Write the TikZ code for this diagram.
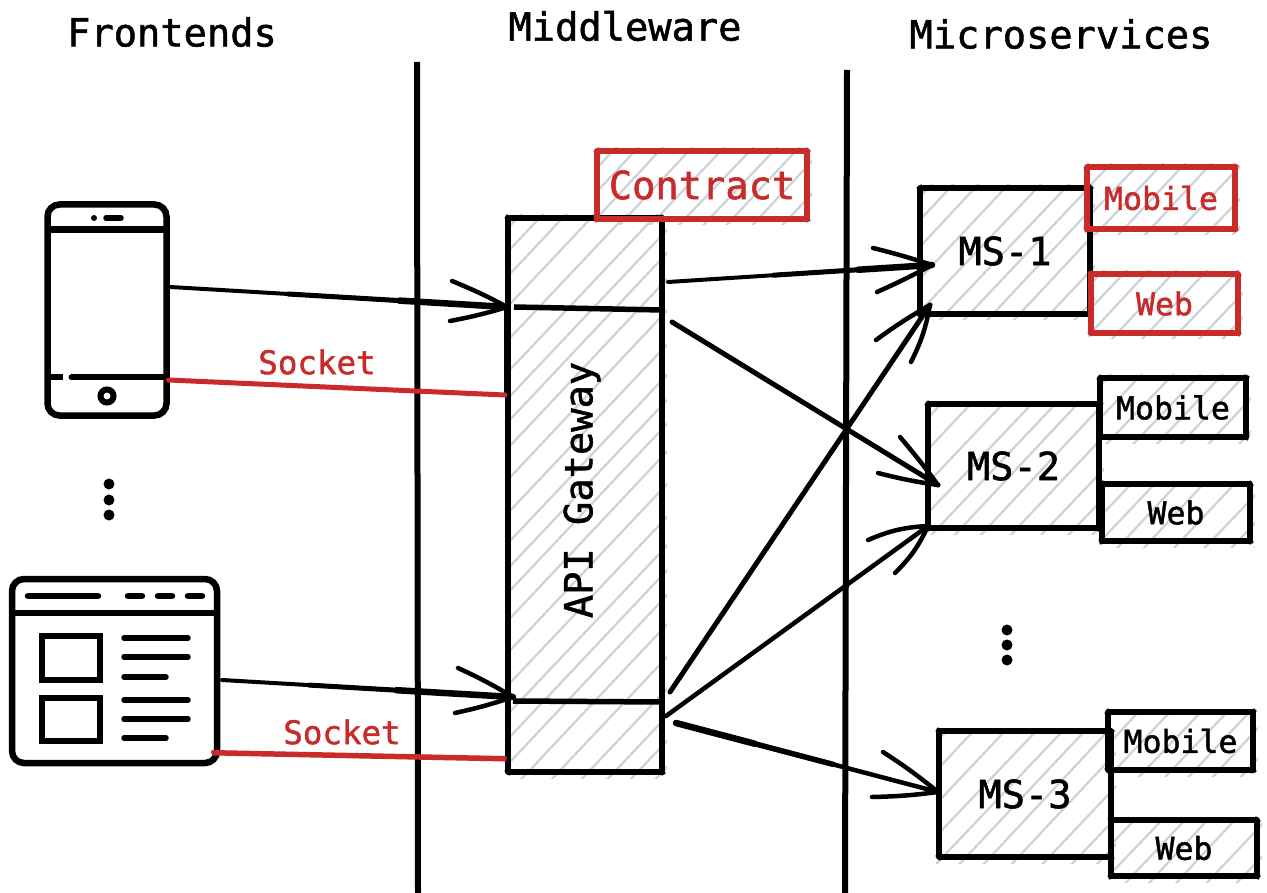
\documentclass[tikz,border=0pt]{standalone}
\usepackage{fontspec}
\usepackage{graphicx}
\newfontfamily\skmono{DejaVu Sans Mono}[FakeBold=1.4]
\usetikzlibrary{calc}
\definecolor{skred}{HTML}{C92A2A}
\definecolor{skhach}{HTML}{CBD2D9}
\newcommand{\fa}{\skmono\fontsize{38.7}{40}\selectfont}
\newcommand{\fb}{\skmono\fontsize{31.5}{34}\selectfont}
\newcommand{\fc}{\skmono\fontsize{32.5}{34}\selectfont}
\tikzset{
  x=1pt,y=-1pt,
  hachure/.style={draw=skhach,line width=2.2pt,line cap=round},
  skbox/.style={draw=black,line width=5.5pt,inner sep=0pt,outer sep=0pt,rectangle,line join=round},
  redbox/.style={skbox,draw=skred,text=skred},
  icon/.style={draw=black,line width=6.5pt,inner sep=0pt,outer sep=0pt,rectangle,rounded corners=12pt},
  title/.style={font=\fa,inner sep=0pt},
  sock/.style={font=\fc,text=skred,inner sep=0pt},
  conn/.style={draw=black,line cap=round},
  barb/.style={draw=black,line width=4.5pt,line cap=round},
  redconn/.style={draw=skred,line width=4pt,line cap=round},
  divider/.style={line width=5.5pt,line cap=butt,draw=black},
  ibar/.style={draw=black,line width=5.5pt,line cap=round},
  idot/.style={fill=black,draw=none,circle,minimum size=11pt,inner sep=0pt},
}
% hachure inside x1 y1 x2 y2 with a phase
\newcommand{\hach}[5]{%
  \begin{scope}
    \clip (#1-3,#2-3) rectangle (#3+5,#4+6);
    \pgfmathsetmacro{\hh}{#4-#2+40}
    \pgfmathsetmacro{\xs}{#1-\hh+#5}
    \pgfmathsetmacro{\xn}{\xs+27}
    \pgfmathsetmacro{\xe}{#3+10}
    \foreach \k in {\xs,\xn,...,\xe}{
      \pgfmathsetmacro{\jit}{3.5*sin(\k*11)}
      \draw[hachure] (\k+\jit,#4+20) -- (\k+\hh+1.5*\jit,#4+20-\hh*1.06);
    }
  \end{scope}}
% sketchy second stroke around a node
\newcommand{\rough}[6]{%
  \draw[draw=#2,line width=3.5pt,line cap=round]
    ([shift={(-2,#3)}]#1.north west) -- ([shift={(2,-#3)}]#1.north east)
    ([shift={(-2,-#4)}]#1.south west) -- ([shift={(2,#4)}]#1.south east)
    ([shift={(#5,-2)}]#1.north west) -- ([shift={(-#5,2)}]#1.south west)
    ([shift={(-#6,-2)}]#1.north east) -- ([shift={(#6,2)}]#1.south east);}
% connector: id, width, start, tip, barb1, barb2, bend1, bend2
\newcommand{\skarrow}[8]{%
  \coordinate (#1s) at (#3);
  \coordinate (#1t) at (#4);
  \coordinate (#1a) at (#5);
  \coordinate (#1b) at (#6);
  \draw[conn,line width=#2pt] (#1s) -- (#1t);
  \draw[barb] (#1a) to[bend left=#7] (#1t);
  \draw[barb] (#1b) to[bend right=#8] (#1t);}
\begin{document}
\begin{tikzpicture}
\useasboundingbox (0,0) rectangle (1267,893);
\fill[white] (0,0) rectangle (1267,893);

% hachures
\hach{508}{218}{662}{772}{4}
\hach{597}{151}{807}{219}{11}
\hach{920}{188}{1090}{314}{7}
\hach{1087}{167}{1235}{229}{15}
\hach{1091}{274}{1238}{333}{2}
\hach{928}{404}{1099}{528}{19}
\hach{1100}{378}{1246}{437}{9}
\hach{1102}{484}{1250}{541}{22}
\hach{939}{731}{1111}{857}{13}
\hach{1108}{712}{1253}{770}{5}
\hach{1111}{820}{1257}{876}{17}

% headings
\node[title] (hfront) at (172,32) {Frontends};
\node[title] (hmid) at (625,26) {Middleware};
\node[title] (hmicro) at (1061,34) {Microservices};

% separators
\coordinate (sep1a) at (417,62);
\coordinate (sep1b) at (418,893);
\coordinate (sep2a) at (847,70);
\coordinate (sep2b) at (845,893);
\draw[line width=6pt] (sep1a) -- (sep1b);
\draw[line width=6pt] (sep2a) -- (sep2b);

% phone
\node[icon] (phone) at (107,310) [minimum width=119pt,minimum height=211pt] {};
\coordinate (p1) at ($(phone.north west)+(0,25)$);
\coordinate (p2) at ($(phone.north east)+(0,25)$);
\draw[line width=6.5pt] (p1) -- (p2);
\draw[line width=6pt] ($(phone.south west)+(0,-38)$) -- ($(phone.south west)+(15,-38)$);
\draw[line width=6pt,line cap=round] ($(phone.south west)+(24,-38)$) -- ($(phone.south east)+(0,-38)$);
\fill (94,218) circle (3pt);
\draw[ibar] (106,218) -- (121,218);
\draw[line width=6pt] (107,396) circle (6.5pt);

% left dots
\node[idot] (d1) at (109,484) {};
\node[idot] (d2) at (109,500) {};
\node[idot] (d3) at (109,515) {};

% browser
\node[icon] (browser) at (114.5,671) [minimum width=205pt,minimum height=184pt] {};
\draw[line width=6.5pt] (13,613) -- (216,613);
\draw[ibar,line width=6.5pt] (28,596) -- (98,596);
\draw[ibar,line width=6.5pt] (128,596) -- (142,596);
\draw[ibar,line width=6.5pt] (158,596) -- (172,596);
\draw[ibar,line width=6.5pt] (188,596) -- (202,596);
\draw[line width=6.5pt] (42,636) rectangle (100,680);
\draw[line width=6.5pt] (42,698) rectangle (100,741);
\draw[ibar] (124,638) -- (188,638);
\draw[ibar] (124,657) -- (188,657);
\draw[ibar] (124,677) -- (166,677);
\draw[ibar] (124,700) -- (188,700);
\draw[ibar] (124,719) -- (188,719);
\draw[ibar] (124,738) -- (166,738);

% gateway
\node[skbox,minimum width=154pt,minimum height=554pt] (gw) at (585,495) {};
\rough{gw}{black}{0}{1}{-1}{0}
\draw[line width=5pt] ([shift={(-1,10)}]gw.west) -- ([shift={(-1,0)}]gw.south west);
\draw[line width=6.5pt] ([shift={(-1,90)}]gw.north west) -- ([shift={(-1,-100)}]gw.west);
\node[font=\fa,inner sep=0pt,rotate=90] (gwlabel) at (582,490) {API Gateway};
\draw[divider] ([shift={(6,-188)}]gw.west) -- ([shift={(0,-185)}]gw.east);
\draw[divider] ([shift={(5,206)}]gw.west) -- ([shift={(0,207)}]gw.east);

% microservices
\node[skbox,minimum width=170pt,minimum height=126pt,font=\fa] (ms1) at (1005,251) {MS-1};
\rough{ms1}{black}{0}{1}{1}{0}
\node[skbox,minimum width=171pt,minimum height=124pt,font=\fa] (ms2) at (1013.5,466) {MS-2};
\rough{ms2}{black}{1}{-1}{0}{-1}
\node[skbox,minimum width=172pt,minimum height=126pt,font=\fa] (ms3) at (1025,794) {MS-3};
\rough{ms3}{black}{0}{1}{-1}{1}

\node[skbox,minimum width=146pt,minimum height=59pt,font=\fb] (m2m) at (1173,407.5) {Mobile};
\rough{m2m}{black}{1}{-1}{0}{1}
\node[skbox,minimum width=148pt,minimum height=57pt,font=\fb] (m2w) at (1176,512.5) {Web};
\rough{m2w}{black}{-1}{1}{1}{0}
\node[skbox,minimum width=145pt,minimum height=58pt,font=\fb] (m3m) at (1180.5,741) {Mobile};
\rough{m3m}{black}{1}{1}{0}{-1}
\node[skbox,minimum width=146pt,minimum height=56pt,font=\fb] (m3w) at (1184,848) {Web};
\rough{m3w}{black}{-1}{0}{1}{1}

\node[redbox,minimum width=148pt,minimum height=62pt,font=\fb] (m1m) at (1161,198) {Mobile};
\rough{m1m}{skred}{1}{1}{1}{0}
\node[redbox,minimum width=147pt,minimum height=59pt,font=\fb] (m1w) at (1164.5,303.5) {Web};
\rough{m1w}{skred}{-1}{0}{0}{1}
\node[redbox,minimum width=210pt,minimum height=68pt,font=\fa] (contract) at (702,185) {Contract};
\rough{contract}{skred}{0}{1}{1}{0}

% right dots
\node[idot] (d4) at (1007,630) {};
\node[idot] (d5) at (1007,645) {};
\node[idot] (d6) at (1007,660) {};

% connectors
\skarrow{a}{4}{[shift={(4,-23)}]phone.east}{[shift={(-1,-188)}]gw.west}{452,281}{450,321}{3}{3}
\draw[conn,line width=5pt] ($(as)!0.35!(at)$) -- (at);
\draw[conn,line width=6.5pt] ($(as)!0.68!(at)$) -- (at);
\skarrow{b}{4}{[shift={(5,9)}]browser.east}{[shift={(5,202)}]gw.west}{458,668}{455,713}{3}{3}
\draw[conn,line width=5pt] ($(bs)!0.3!(bt)$) -- (bt);
\draw[conn,line width=6.5pt] ($(bs)!0.6!(bt)$) -- (bt);
\skarrow{c}{4}{[shift={(6,-213)}]gw.east}{[shift={(12,14)}]ms1.west}{873,248}{877,292}{2}{2}
\draw[conn,line width=5pt] ($(cs)!0.4!(ct)$) -- (ct);
\draw[conn,line width=6.5pt] ($(cs)!0.72!(ct)$) -- (ct);
\skarrow{e}{5}{[shift={(10,-173)}]gw.east}{[shift={(10,19)}]ms2.west}{900,437}{878,473}{2}{3}
\skarrow{f}{5}{[shift={(8,197)}]gw.east}{[shift={(10,54)}]ms1.west}{876,340}{911,362}{3}{8}
\skarrow{g}{4.5}{[shift={(4,221)}]gw.east}{[shift={(0,60)}]ms2.west}{868,540}{895,573}{10}{10}
\skarrow{h}{4.5}{[shift={(14,228)}]gw.east}{[shift={(-1,-2)}]ms3.west}{883,752}{872,797}{3}{3}
\draw[conn,line width=5.5pt] (hs) -- ($(hs)!0.6!(ht)$);
\draw[conn,line width=6.5pt] (hs) -- ($(hs)!0.3!(ht)$);

% sockets
\draw[redconn,line width=5pt] ([shift={(2,70)}]phone.east) -- ([shift={(-3,-100)}]gw.west);
\draw[redconn] ([shift={(-4,81)}]browser.east) -- ([shift={(-3,263)}]gw.west);
\draw[redconn,line width=3pt] ([shift={(-4,83)}]browser.east) -- ([shift={(-3,265)}]gw.west);
\node[sock] (s1) at (317,362) {Socket};
\node[sock] (s2) at (342,732) {Socket};
\end{tikzpicture}
\end{document}
